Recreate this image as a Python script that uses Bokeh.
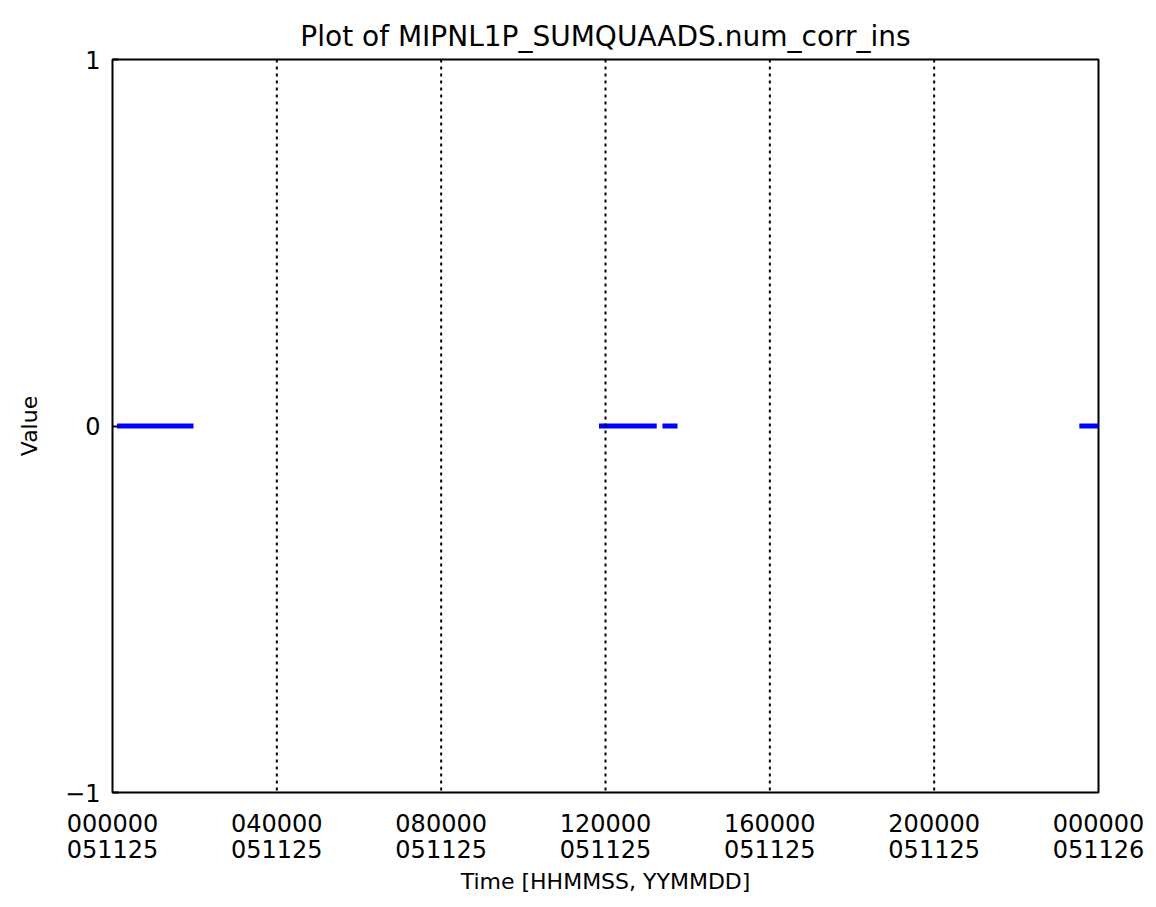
from bokeh.plotting import figure
from bokeh.models import Range1d, FixedTicker, Span
from bokeh.embed import file_html
from bokeh.resources import INLINE

# ---- data (seconds since 2005-11-25 00:00:00) ----
segment_start = [400, 42630, 48190, 84720]
segment_end = [7100, 47690, 49510, 86400]
segment_value = [0, 0, 0, 0]

x_tick_values = [0, 14400, 28800, 43200, 57600, 72000, 86400]
x_tick_labels = ["000000\n051125", "040000\n051125", "080000\n051125", "120000\n051125",
                 "160000\n051125", "200000\n051125", "000000\n051126"]
y_tick_values = [-1, 0, 1]
y_tick_labels = ["\u22121", "0", "1"]

FONT = "DejaVu Sans"

p = figure(
    width=1156, height=907,
    frame_width=986, frame_height=733,
    min_border_left=112, min_border_right=58, min_border_top=59, min_border_bottom=115,
    x_range=Range1d(0, 86400), y_range=Range1d(-1, 1),
    output_backend="svg", toolbar_location=None,
    title="Plot of MIPNL1P_SUMQUAADS.num_corr_ins",
)

p.title.text_font = FONT
p.title.text_font_size = "28px"
p.title.text_font_style = "normal"
p.title.align = "center"
p.title.text_color = "black"
p.title.standoff = 14

p.background_fill_color = "white"
p.border_fill_color = "white"
p.outline_line_color = "black"
p.outline_line_width = 2

p.grid.grid_line_color = None

# dotted vertical lines at interior ticks
for t in x_tick_values[1:-1]:
    p.add_layout(Span(location=t, dimension="height", line_color="black",
                      line_width=2, line_dash="3 4"))

# x axis
xa = p.xaxis[0]
xa.ticker = FixedTicker(ticks=x_tick_values)
xa.major_label_overrides = {v: l for v, l in zip(x_tick_values, x_tick_labels)}
xa.axis_label = "Time [HHMMSS, YYMMDD]"
xa.axis_line_color = None
xa.major_tick_line_color = None
xa.minor_tick_line_color = None
xa.major_label_standoff = 11
xa.major_label_text_line_height = 0.95
xa.axis_label_standoff = 2
xa.major_label_text_font = FONT
xa.major_label_text_font_size = "24px"
xa.major_label_text_color = "black"
xa.axis_label_text_font = FONT
xa.axis_label_text_font_size = "22px"
xa.axis_label_text_font_style = "normal"
xa.axis_label_text_color = "black"

# y axis
ya = p.yaxis[0]
ya.ticker = FixedTicker(ticks=y_tick_values)
ya.major_label_overrides = {v: l for v, l in zip(y_tick_values, y_tick_labels)}
ya.axis_label = "Value"
ya.axis_line_color = None
ya.major_tick_in = 6
ya.major_tick_out = 0
ya.major_tick_line_color = "black"
ya.major_tick_line_width = 2
ya.minor_tick_line_color = None
ya.major_label_standoff = 12
ya.axis_label_standoff = 20
ya.major_label_text_font = FONT
ya.major_label_text_font_size = "24px"
ya.major_label_text_color = "black"
ya.axis_label_text_font = FONT
ya.axis_label_text_font_size = "22px"
ya.axis_label_text_font_style = "normal"
ya.axis_label_text_color = "black"

p.segment(x0=segment_start, y0=segment_value, x1=segment_end, y1=segment_value,
          line_color="#0000ff", line_width=5, line_cap="butt")

open("out.html", "w").write(file_html(p, INLINE))
